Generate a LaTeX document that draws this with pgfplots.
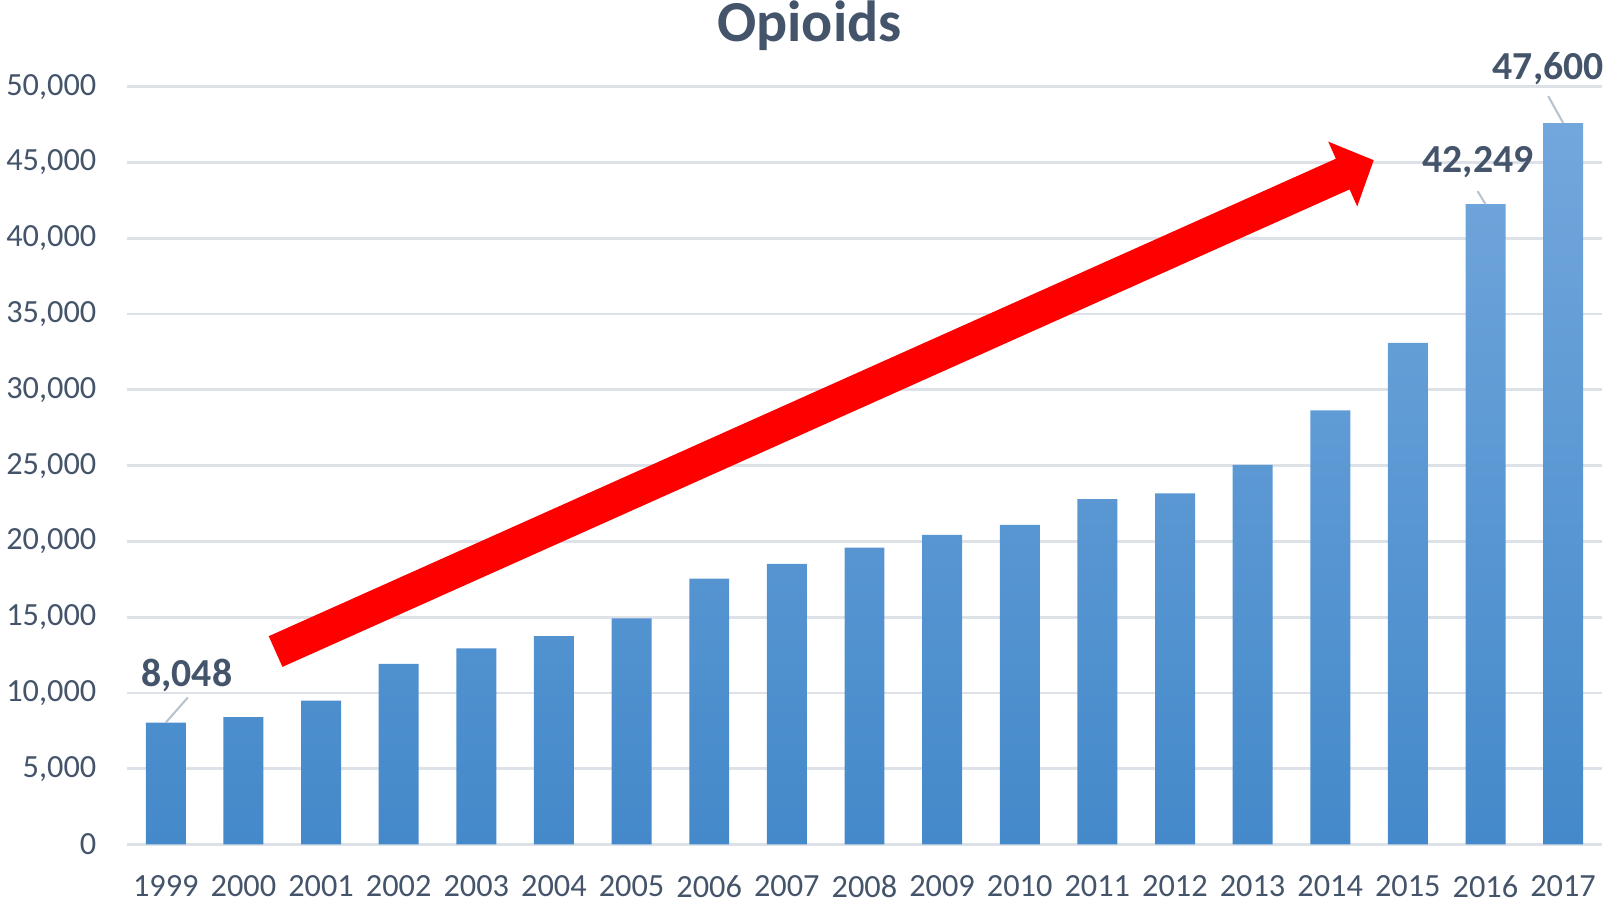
\documentclass[border=0pt]{standalone}
\usepackage{pgfplots}
\pgfplotsset{compat=1.18}
\usepackage{fontspec}
\setmainfont{Carlito}
\usetikzlibrary{arrows.meta}
\definecolor{txt}{HTML}{44546A}
\definecolor{gridc}{HTML}{DDE2E8}
\definecolor{bartop}{HTML}{72A7DC}
\definecolor{barbot}{HTML}{4489CA}
\definecolor{leader}{HTML}{B8C4D2}
\begin{document}
\begin{tikzpicture}[x=1mm,y=1mm]
\path[use as bounding box] (-12.7,-5.95) rectangle (148.7,84.45);
\begin{axis}[
  at={(0,0)}, anchor=south west,
  scale only axis,
  width=147.5mm, height=75.78mm,
  xmin=1998.5, xmax=2017.5,
  ymin=0, ymax=50000,
  ytick={0,5000,...,50000},
  xtick={1999,...,2017},
  xticklabel={\pgfmathprintnumber[1000 sep={}]{\tick}},
  /pgf/number format/.cd, 1000 sep={,}, assume math mode=true,
  /pgfplots/.cd,
  scaled y ticks=false,
  axis line style={draw=none},
  axis x line*=bottom,
  ymajorgrids, xmajorgrids=false,
  grid style={draw=gridc, line width=0.8pt},
  major tick length=0pt,
  tick label style={font=\fontsize{9.2}{11}\selectfont, text=txt, inner sep=0pt},
  yticklabel style={anchor=east, xshift=-3mm},
  xticklabel style={anchor=north, yshift=-3mm},
  clip=false,
]
\draw[gridc, line width=0.8pt] (axis cs:1998.5,0) -- (axis cs:2017.5,0);
\addplot[ybar, bar width=0.515, draw=none, top color=bartop, bottom color=barbot] coordinates {
(1999,8048) (2000,8407) (2001,9496) (2002,11920) (2003,12940) (2004,13756)
(2005,14918) (2006,17545) (2007,18516) (2008,19582) (2009,20422) (2010,21089)
(2011,22784) (2012,23166) (2013,25052) (2014,28647) (2015,33091) (2016,42249)
(2017,47600)};
\draw[red, line width=3.36mm, -{Triangle[length=3.4mm, width=6.9mm]}] (axis cs:2000.414,12731) -- (axis cs:2014.56,45152);
\draw[leader, line width=0.6pt] (axis cs:1999,8048) -- ++(2.2mm,2.5mm);
\node[font=\bfseries\fontsize{11.3}{13}\selectfont, text=txt] at ([shift={(2.1mm,4.7mm)}]axis cs:1999,8048) {8,048};
\draw[leader, line width=0.6pt] (axis cs:2016,42249) -- ++(-0.8mm,1.3mm);
\node[font=\bfseries\fontsize{11.3}{13}\selectfont, text=txt] at ([shift={(-0.75mm,4.23mm)}]axis cs:2016,42249) {42,249};
\draw[leader, line width=0.6pt] (axis cs:2017,47600) -- ++(-1.5mm,2.7mm);
\node[font=\bfseries\fontsize{11.3}{13}\selectfont, text=txt] at ([shift={(-1.5mm,5.4mm)}]axis cs:2017,47600) {47,600};
\end{axis}
\node[anchor=base, font=\bfseries\fontsize{16.5}{20}\selectfont, text=txt, inner sep=0pt] at (68.25,80.25) {Opioids};
\end{tikzpicture}
\end{document}
